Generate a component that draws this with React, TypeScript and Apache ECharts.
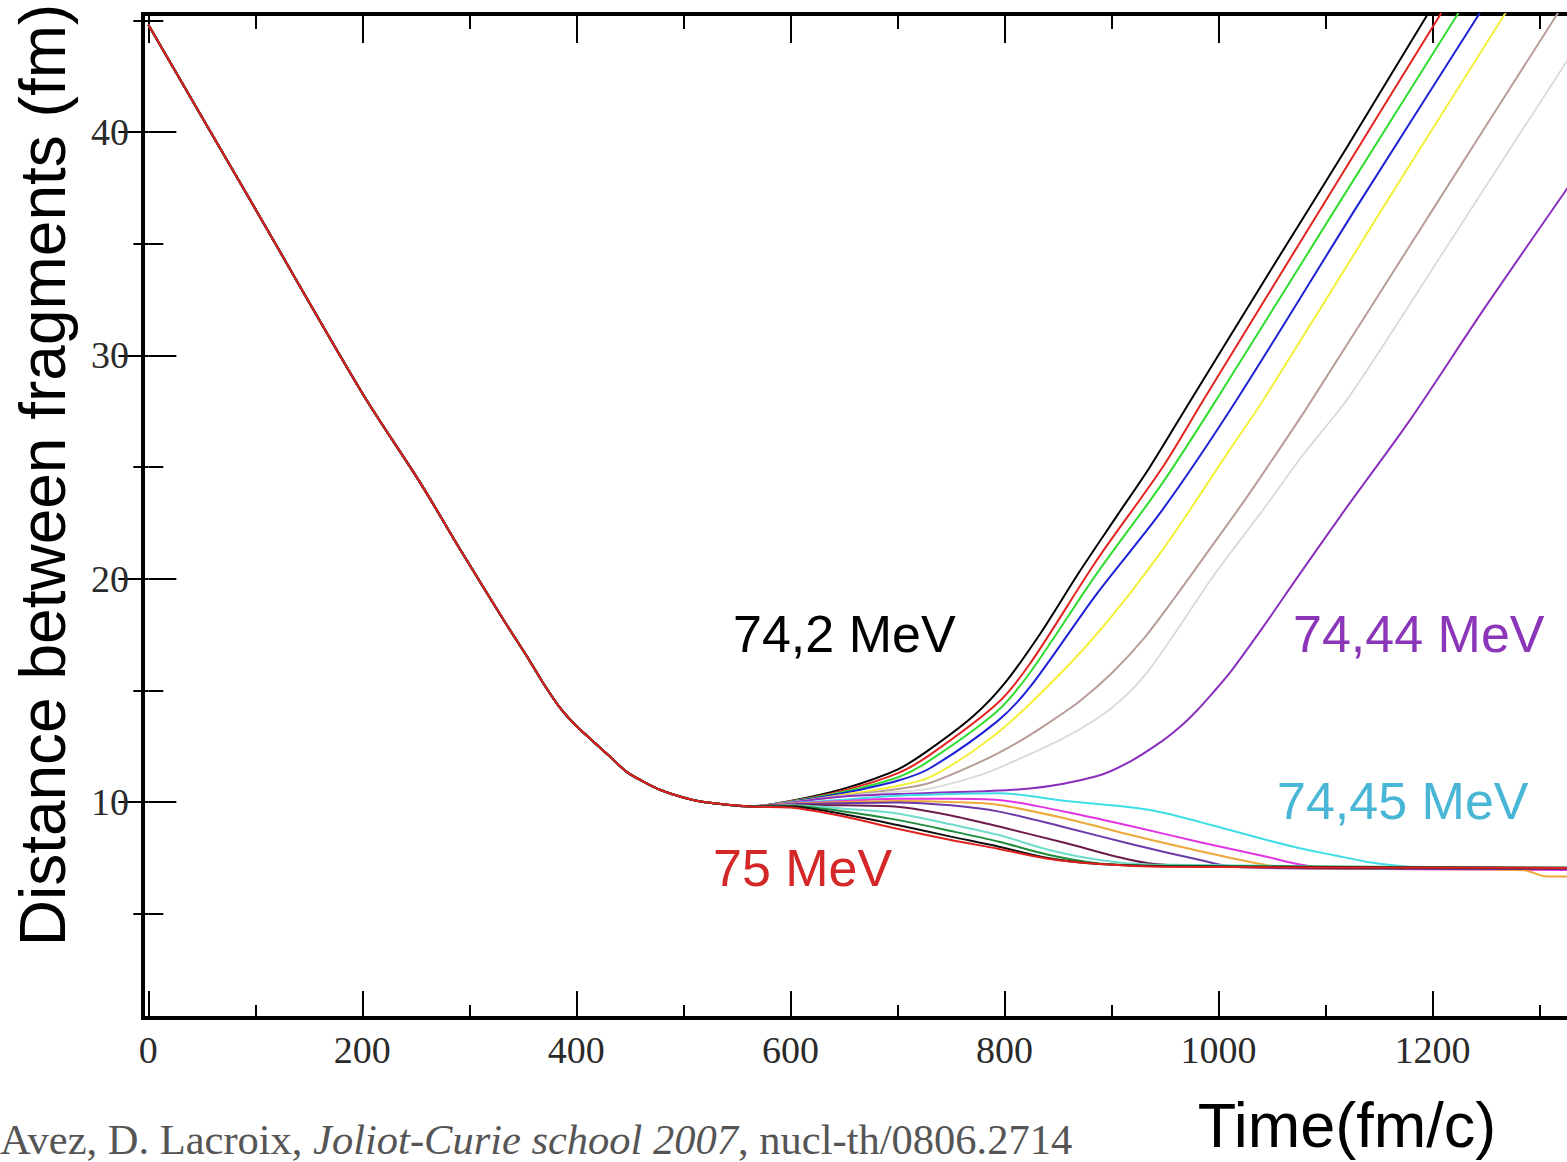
import React, { useEffect, useRef } from "react";
import * as echarts from "echarts";

// ---- axis ranges & ticks ----
const X_MIN = -5;
const X_MAX = 1337;
const Y_MIN = 0.33;
const Y_MAX = 45.28;
const X_MAJOR = [0, 200, 400, 600, 800, 1000, 1200];
const X_MINOR = [100, 300, 500, 700, 900, 1100, 1300];
const Y_MAJOR = [10, 20, 30, 40];
const Y_MINOR = [5, 15, 25, 35, 45];

// ---- shared approach phase (time fm/c, distance fm) ----
const APPROACH = [
  [0, 44.8], [100, 36.55], [200, 28.3], [254, 24.3], [294, 21.1], [332, 18.15],
  [356, 16.35], [370, 15.25], [385, 14.2], [400, 13.4], [416, 12.7], [432, 12.0],
  [447, 11.35], [463, 10.9], [478, 10.55], [500, 10.2], [519, 10.0], [562, 9.8],
];

// ---- re-separating trajectories (below barrier) ----
const E_BLACK = [[600, 10.05], [650, 10.6], [700, 11.45], [730, 12.35], [771, 13.85], [800, 15.3], [833, 17.5], [870, 20.3], [905, 22.8], [936, 25.0], [973, 27.9], [1050, 33.9], [1120, 39.3], [1196, 45.3], [1260, 50.2]];
const E_RED = [[600, 10.03], [650, 10.52], [700, 11.28], [730, 12.1], [793, 14.4], [824, 16.2], [886, 20.8], [948, 25.0], [986, 28.0], [1100, 36.9], [1208, 45.3], [1270, 50.1]];
const E_GREEN = [[600, 10.02], [650, 10.46], [700, 11.1], [730, 11.85], [793, 14.05], [824, 15.8], [886, 20.2], [948, 24.3], [998, 28.0], [1110, 36.6], [1224, 45.3], [1280, 49.6]];
const E_BLUE = [[600, 10.0], [650, 10.4], [700, 10.95], [730, 11.5], [793, 13.6], [824, 15.15], [886, 19.3], [948, 23.1], [1017, 28.0], [1130, 36.7], [1244, 45.3], [1300, 49.6]];
const E_YELLOW = [[600, 9.99], [650, 10.33], [700, 10.72], [730, 11.1], [780, 12.6], [824, 14.4], [886, 17.5], [948, 21.3], [1011, 25.8], [1042, 28.0], [1155, 36.7], [1268, 45.3], [1320, 49.3]];
const E_BROWN = [[600, 9.98], [650, 10.28], [700, 10.58], [730, 10.85], [780, 11.85], [810, 12.6], [840, 13.5], [870, 14.5], [900, 15.75], [930, 17.3], [960, 19.2], [990, 21.2], [1020, 23.2], [1050, 25.3], [1082, 27.6], [1200, 36.5], [1317, 45.3], [1340, 47.0]];
const E_GREY = [[600, 9.98], [650, 10.26], [700, 10.46], [730, 10.6], [780, 11.25], [810, 11.85], [840, 12.5], [870, 13.25], [900, 14.2], [930, 15.6], [960, 17.6], [995, 20.1], [1042, 23.1], [1080, 25.6], [1123, 28.2], [1222, 35.5], [1322, 42.9], [1340, 44.2]];
const E_VIOLET = [[600, 9.98], [650, 10.25], [730, 10.4], [824, 10.6], [886, 11.15], [917, 11.8], [948, 12.75], [965, 13.4], [980, 14.1], [995, 14.9], [1011, 15.8], [1042, 17.85], [1073, 20.0], [1120, 23.2], [1179, 27.1], [1250, 32.2], [1325, 37.4], [1340, 38.4]];

// ---- fusing trajectories (above barrier) ----
const E_CYAN = [[600, 9.95], [650, 10.1], [700, 10.28], [750, 10.36], [795, 10.39], [858, 10.05], [920, 9.75], [951, 9.5], [983, 9.1], [1014, 8.7], [1045, 8.3], [1076, 7.93], [1107, 7.63], [1138, 7.33], [1170, 7.13], [1201, 7.03], [1260, 7.0], [1340, 7.0]];
const E_MAGENTA = [[600, 9.93], [650, 10.05], [700, 10.15], [750, 10.15], [795, 10.09], [858, 9.55], [920, 8.9], [983, 8.2], [1045, 7.55], [1076, 7.2], [1107, 7.03], [1240, 6.98], [1340, 6.95]];
const E_ORANGE = [[600, 9.92], [650, 10.0], [700, 10.05], [750, 10.0], [795, 9.87], [858, 9.25], [920, 8.5], [983, 7.8], [1045, 7.18], [1076, 7.03], [1285, 6.95], [1305, 6.68], [1340, 6.66]];
const E_INDIGO = [[600, 9.9], [650, 9.95], [700, 9.98], [750, 9.85], [795, 9.57], [858, 8.85], [920, 8.1], [983, 7.4], [1014, 7.1], [1100, 7.02], [1340, 7.0]];
const E_MAROON = [[600, 9.88], [650, 9.85], [700, 9.79], [750, 9.4], [795, 8.9], [858, 8.15], [905, 7.55], [936, 7.25], [1000, 7.1], [1340, 7.02]];
const E_TURQ = [[600, 9.85], [650, 9.7], [700, 9.49], [750, 9.0], [795, 8.52], [842, 7.85], [889, 7.4], [935, 7.2], [1340, 7.05]];
const E_GREEN4 = [[600, 9.82], [650, 9.58], [700, 9.2], [750, 8.7], [795, 8.22], [842, 7.63], [889, 7.25], [950, 7.15], [1340, 7.05]];
const E_BLACK2 = [[600, 9.8], [650, 9.45], [700, 8.97], [750, 8.45], [795, 8.0], [842, 7.48], [889, 7.22], [950, 7.12], [1340, 7.05]];
const E_RED75 = [[600, 9.75], [650, 9.35], [700, 8.8], [750, 8.3], [795, 7.9], [842, 7.45], [889, 7.22], [950, 7.1], [1340, 7.05]];

const CURVES = [
  { tail: E_BLACK, color: "#000000", width: 2 },
  { tail: E_RED, color: "#e3231f", width: 2 },
  { tail: E_GREEN, color: "#2fdc2f", width: 2 },
  { tail: E_BLUE, color: "#1c22d6", width: 2 },
  { tail: E_YELLOW, color: "#f4f03a", width: 2 },
  { tail: E_BROWN, color: "#b89e98", width: 2 },
  { tail: E_GREY, color: "#dadada", width: 1.8 },
  { tail: E_VIOLET, color: "#8a2fbe", width: 2 },
  { tail: E_CYAN, color: "#3fdde6", width: 2 },
  { tail: E_MAGENTA, color: "#e235e2", width: 2 },
  { tail: E_ORANGE, color: "#efa83a", width: 2 },
  { tail: E_INDIGO, color: "#6d3aa8", width: 2 },
  { tail: E_MAROON, color: "#6b1c4c", width: 2 },
  { tail: E_TURQ, color: "#6fdccc", width: 2 },
  { tail: E_GREEN4, color: "#1f8c3c", width: 2 },
  { tail: E_BLACK2, color: "#111111", width: 2 },
  { tail: E_RED75, color: "#e0201e", width: 2 },
];

const LABEL_FONT = "'Liberation Serif', 'Times New Roman', serif";
const SANS = "'Liberation Sans', Arial, sans-serif";
const plain = (v: number) => String(v);

function xAxisDef(position: string, values: number[], len: number, labels: boolean) {
  return {
    type: "value",
    position,
    min: X_MIN,
    max: X_MAX,
    axisLine: { show: false },
    splitLine: { show: false },
    axisTick: { show: true, inside: true, length: len, customValues: values, lineStyle: { color: "#000", width: 2 } },
    axisLabel: labels
      ? { show: true, customValues: values, formatter: plain, margin: 13, fontFamily: LABEL_FONT, fontSize: 38, color: "#2a2a2a" }
      : { show: false },
  };
}

function yAxisDef(position: string, values: number[], len: number, labels: boolean) {
  return {
    type: "value",
    position,
    min: Y_MIN,
    max: Y_MAX,
    axisLine: { show: false },
    splitLine: { show: false },
    axisTick: { show: true, inside: true, length: len, customValues: values, lineStyle: { color: "#000", width: 2 } },
    axisLabel: labels
      ? { show: true, customValues: values, formatter: plain, margin: 14, fontFamily: LABEL_FONT, fontSize: 38, color: "#2a2a2a" }
      : { show: false },
  };
}

export default function App() {
  const ref = useRef<HTMLDivElement>(null);
  useEffect(() => {
    document.body.style.margin = "0";
    document.body.style.overflow = "hidden";
    if (!ref.current) return;
    const chart = echarts.init(ref.current, undefined, { renderer: "svg" });
    const series = CURVES.map((c, i) => ({
      type: "line",
      name: "s" + i,
      data: [...APPROACH, ...c.tail],
      showSymbol: false,
      smooth: 0.3,
      clip: true,
      xAxisIndex: 0,
      yAxisIndex: 0,
      lineStyle: { color: c.color, width: c.width },
      itemStyle: { color: c.color },
      z: 2,
    }));
    chart.setOption({
      animation: false,
      backgroundColor: "#ffffff",
      grid: {
        left: 143,
        top: 14,
        width: 1436,
        height: 1004,
        show: true,
        borderColor: "#000",
        borderWidth: 4,
        backgroundColor: "transparent",
      },
      xAxis: [
        xAxisDef("bottom", X_MAJOR, 27, true),
        xAxisDef("bottom", X_MINOR, 13, false),
        xAxisDef("top", X_MAJOR, 29, false),
        xAxisDef("top", X_MINOR, 15, false),
      ],
      yAxis: [
        yAxisDef("left", Y_MAJOR, 28, true),
        yAxisDef("left", Y_MINOR, 15, false),
        yAxisDef("right", Y_MAJOR, 30, false),
        yAxisDef("right", Y_MINOR, 15, false),
      ],
      series,
      graphic: [
        {
          type: "text",
          x: 43,
          y: 475,
          rotation: Math.PI / 2,
          style: { text: "Distance between fragments (fm)", fontFamily: SANS, fontSize: 64, fill: "#000", align: "center", verticalAlign: "middle" },
        },
        {
          type: "text",
          x: 1347,
          y: 1125,
          style: { text: "Time(fm/c)", fontFamily: SANS, fontSize: 63, fill: "#000", align: "center", verticalAlign: "middle" },
        },
        {
          type: "text",
          x: 733,
          y: 634,
          style: { text: "74,2 MeV", fontFamily: SANS, fontSize: 52, fill: "#000", align: "left", verticalAlign: "middle" },
        },
        {
          type: "text",
          x: 1293,
          y: 634,
          style: { text: "74,44 MeV", fontFamily: SANS, fontSize: 52, fill: "#8b35b8", align: "left", verticalAlign: "middle" },
        },
        {
          type: "text",
          x: 1277,
          y: 801,
          style: { text: "74,45 MeV", fontFamily: SANS, fontSize: 52, fill: "#4ab6d6", align: "left", verticalAlign: "middle" },
        },
        {
          type: "text",
          x: 713,
          y: 868,
          style: { text: "75 MeV", fontFamily: SANS, fontSize: 52, fill: "#d42828", align: "left", verticalAlign: "middle" },
        },
        {
          type: "text",
          x: 0,
          y: 1139,
          style: {
            text: "{n|Avez, D. Lacroix, }{i|Joliot-Curie school 2007}{n|, nucl-th/0806.2714}",
            align: "left",
            verticalAlign: "middle",
            rich: {
              n: { fontFamily: LABEL_FONT, fontSize: 42.5, fill: "#555555", color: "#555555" },
              i: { fontFamily: LABEL_FONT, fontSize: 42.5, fontStyle: "italic", fill: "#555555", color: "#555555" },
            },
          },
        },
      ],
    });
    return () => chart.dispose();
  }, []);
  return (
    <div style={{ width: 1567, height: 1162, overflow: "hidden", position: "relative" }}>
      <div ref={ref} style={{ width: 1600, height: 1162 }} />
    </div>
  );
}
